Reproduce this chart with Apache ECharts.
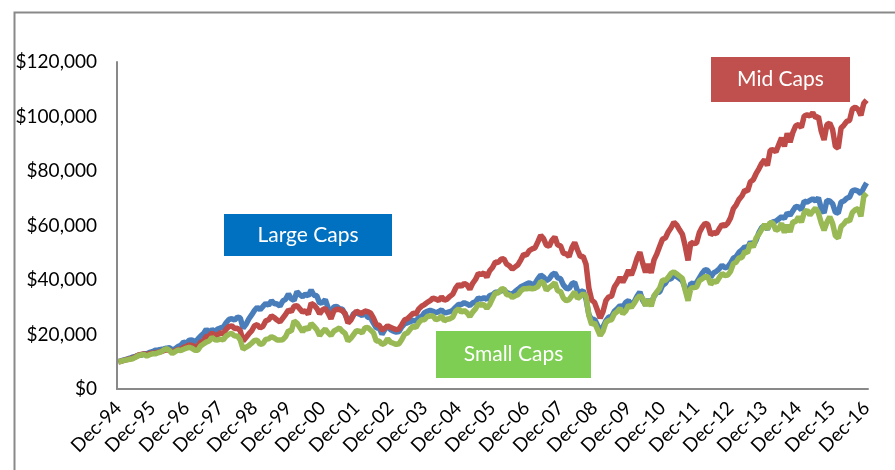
<!DOCTYPE html>
<html><head><meta charset="utf-8">
<script src="https://cdn.jsdelivr.net/npm/echarts@6/dist/echarts.min.js"></script>
<style>html,body{margin:0;padding:0;background:#fff}#c{width:895px;height:470px}</style>
</head><body><div id="c"></div>
<script>
// Values in thousands of dollars, monthly from Dec-94 to Dec-16
const monthNames = ['Jan','Feb','Mar','Apr','May','Jun','Jul','Aug','Sep','Oct','Nov','Dec'];
const startLabel = 'Dec-94';
const years = ['95','96','97','98','99','00','01','02','03','04','05','06','07','08','09','10','11','12','13','14','15','16'];
const yTicks = [0, 20, 40, 60, 80, 100, 120];

const largeCaps = [10.0,
 10.3,10.7,11.0,11.3,11.7,12.0,12.4,12.4,12.9,12.9,13.4,13.7,
 14.2,14.3,14.5,14.7,15.0,15.1,14.4,14.7,15.6,16.0,17.2,16.8,
 17.9,18.0,17.3,18.3,19.4,20.3,21.9,20.7,21.8,21.1,22.0,22.4,
 22.7,24.3,25.5,25.8,25.3,26.4,26.1,22.3,23.7,25.7,27.2,28.8,
 30.0,29.1,30.3,31.4,30.7,32.4,31.4,31.2,30.4,32.3,32.9,34.9,
 33.1,32.5,35.7,34.6,33.9,34.8,34.2,36.3,34.4,34.2,31.5,31.7,
 32.8,29.8,27.9,30.1,30.3,29.5,29.3,27.4,25.2,25.7,27.7,27.9,
 27.5,27.0,28.0,26.3,26.1,24.2,22.4,22.5,20.1,21.8,23.1,21.8,
 21.2,20.9,21.1,22.8,24.0,24.3,24.7,25.2,24.9,26.3,26.6,28.0,
 28.5,28.9,28.5,28.0,28.4,29.0,28.0,28.1,28.4,28.9,30.0,31.0,
 31.0,31.7,31.2,30.6,31.6,32.0,33.4,33.0,33.5,32.9,34.3,34.6,
 35.5,35.6,36.0,36.4,35.4,35.0,34.8,35.8,36.6,37.5,38.0,38.5,
 39.0,38.3,38.7,40.4,41.8,41.1,39.8,40.4,41.9,42.6,40.8,40.5,
 38.2,37.0,36.8,38.6,39.1,35.9,35.6,36.1,33.0,27.3,25.4,25.6,
 23.5,21.0,22.8,25.0,26.4,26.5,28.5,29.5,30.6,30.0,31.8,32.4,
 31.0,32.0,34.0,35.6,32.5,30.8,32.8,31.5,34.0,35.4,35.6,38.0,
 38.8,40.5,40.4,41.8,41.3,40.5,39.7,37.0,35.0,38.8,38.6,39.0,
 40.8,42.5,43.8,43.5,41.0,42.6,43.2,44.1,45.4,44.5,44.8,46.2,
 48.0,48.6,50.2,51.0,52.2,51.6,54.0,52.6,54.6,57.4,59.2,60.0,
 58.6,60.8,61.3,61.6,62.4,63.2,62.6,64.6,63.8,65.4,67.0,66.8,
 65.8,69.0,68.6,69.2,69.8,69.0,70.2,66.2,64.6,69.2,69.0,68.0,
 64.8,64.6,68.6,69.0,70.0,70.4,72.8,73.0,72.6,71.6,73.8,75.6];

const midCaps = [10.0,
 10.2,10.5,10.8,11.0,11.3,11.8,12.4,12.7,12.9,12.5,13.0,13.1,
 13.2,13.5,13.7,14.1,14.4,14.2,13.3,14.0,14.5,14.5,15.3,15.6,
 16.2,16.0,15.5,15.7,17.1,17.6,19.3,19.4,20.6,19.6,19.9,20.6,
 20.3,21.9,22.9,23.2,22.2,22.3,21.4,17.6,18.9,20.2,21.3,23.2,
 23.6,22.4,23.0,25.0,25.4,26.8,26.2,25.3,24.6,26.0,27.4,29.0,
 28.4,30.4,30.6,29.4,28.2,28.8,27.4,31.5,30.8,29.6,27.6,29.0,
 29.6,27.9,25.8,28.6,29.3,29.2,28.7,27.7,24.2,25.3,27.2,28.6,
 28.0,27.8,28.6,28.4,27.8,26.0,23.6,23.4,21.6,22.3,23.2,22.6,
 22.2,21.8,22.0,23.6,25.4,25.8,26.8,27.8,27.6,29.4,30.4,31.0,
 31.8,32.4,33.4,33.0,32.5,33.8,32.6,33.0,34.0,34.8,37.0,38.4,
 37.6,38.8,38.2,36.6,38.8,40.2,42.4,42.0,42.6,41.0,43.4,44.6,
 46.6,46.4,47.6,47.8,45.8,45.2,44.0,44.8,45.6,47.4,49.4,49.2,
 50.8,51.4,51.8,54.0,56.4,55.2,52.8,52.4,54.6,55.8,52.8,52.6,
 49.8,49.6,48.6,51.8,53.8,51.0,48.6,48.6,45.8,37.0,32.6,31.8,
 29.0,26.0,28.4,32.4,33.8,34.0,37.4,39.0,41.0,39.2,41.2,43.6,
 41.8,44.6,48.0,50.2,46.2,42.8,45.8,42.6,47.4,49.6,52.4,55.0,
 55.4,57.6,59.2,61.2,60.2,58.4,56.8,52.4,47.2,53.8,53.4,53.6,
 57.4,59.4,60.8,60.4,56.6,57.4,57.0,58.8,60.4,59.8,60.8,62.8,
 66.2,67.6,69.6,70.8,73.0,72.6,76.0,76.8,79.0,80.8,82.8,84.2,
 82.0,87.6,87.8,87.0,89.6,92.2,89.0,93.8,90.6,94.2,96.6,97.0,
 96.0,100.2,100.6,100.2,101.4,99.6,100.0,94.6,91.4,97.0,97.6,95.2,
 89.0,88.4,95.8,96.8,98.2,98.6,102.8,103.4,102.6,100.4,104.8,106.0];

const smallCaps = [10.0,
 10.2,10.5,10.7,10.9,11.1,11.6,12.2,12.5,12.7,12.1,12.6,12.9,
 12.9,13.3,13.6,14.3,14.8,14.2,13.0,13.7,14.3,14.1,14.6,15.0,
 15.3,14.9,14.2,14.2,15.8,16.5,17.2,17.6,18.9,18.1,18.0,18.3,
 18.0,19.4,20.1,20.4,19.4,19.5,18.0,14.6,15.3,15.9,16.8,17.8,
 17.9,16.4,16.7,18.2,18.4,19.2,18.7,18.0,18.0,18.1,19.2,21.4,
 21.2,25.0,24.2,22.6,21.0,22.6,21.8,24.0,23.0,21.8,19.6,21.0,
 22.0,20.6,19.6,21.2,21.8,22.4,21.2,20.4,17.6,18.6,20.0,21.4,
 21.2,20.6,22.4,22.6,21.6,20.6,17.6,17.6,16.4,16.8,18.4,17.2,
 16.8,16.4,16.6,18.2,20.2,20.6,22.0,23.0,22.6,24.4,25.4,25.4,
 26.6,26.8,26.8,25.4,25.8,26.8,25.0,25.6,25.8,26.4,28.6,29.4,
 28.2,28.8,28.0,26.6,28.2,29.4,31.2,30.8,31.0,29.6,31.0,33.2,
 35.2,35.2,36.6,36.8,34.6,34.6,33.6,34.2,34.6,36.0,36.8,36.8,
 37.0,36.8,37.0,37.6,39.4,39.0,36.2,37.2,38.0,39.0,36.0,35.8,
 33.4,32.4,32.8,34.2,35.6,33.2,34.0,35.0,34.0,27.0,23.6,24.4,
 22.0,19.6,21.2,24.4,25.2,25.4,27.6,28.4,29.6,27.6,28.6,30.8,
 30.0,31.4,33.2,34.2,33.2,30.6,32.8,30.4,34.2,35.6,37.0,40.0,
 39.8,41.0,42.4,43.0,42.2,41.4,40.6,36.2,32.4,37.0,37.2,37.4,
 39.8,40.4,41.2,41.2,38.4,39.6,39.2,40.8,42.4,41.6,41.8,43.2,
 46.0,46.6,48.2,48.2,50.4,50.0,53.6,52.0,55.4,56.8,58.6,60.4,
 58.6,61.2,60.8,58.2,58.8,60.8,57.4,60.2,57.6,61.4,61.4,63.2,
 61.2,64.8,65.6,63.8,65.2,66.4,64.6,61.0,58.2,61.2,63.2,60.8,
 56.2,55.4,59.6,60.6,62.0,61.6,64.8,65.8,66.2,63.4,70.6,71.8];

const categories = [startLabel];
years.forEach(y => monthNames.forEach(m => categories.push(m + '-' + y)));

const FONT = 'Lato, "Open Sans", sans-serif';
const chart = echarts.init(document.getElementById('c'), null, {renderer: 'canvas'});
function box(x, y, w, h, color, text) {
  return {
    type: 'group', left: x, top: y, z: 100,
    children: [
      {type: 'rect', shape: {x: 0, y: 0, width: w, height: h}, style: {fill: color}},
      {type: 'text', x: w / 2, y: h / 2, style: {text: text, fill: '#fff', font: '21px ' + FONT, textAlign: 'center', textVerticalAlign: 'middle'}}
    ]
  };
}
chart.setOption({
  animation: false,
  backgroundColor: '#fff',
  grid: {left: 117, right: 27, top: 62, bottom: 81, containLabel: false},
  xAxis: {
    type: 'category', data: categories, boundaryGap: true,
    axisLine: {show: true, lineStyle: {color: '#898989', width: 2}},
    axisTick: {show: false},
    axisLabel: {
      interval: (i) => i % 12 === 0,
      rotate: 45, margin: 16, color: '#000', fontSize: 19, fontFamily: FONT
    },
    splitLine: {show: false}
  },
  yAxis: {
    type: 'value', min: yTicks[0], max: yTicks[yTicks.length - 1], interval: 20,
    axisLine: {show: true, lineStyle: {color: '#898989', width: 2}},
    axisTick: {show: false},
    splitLine: {show: false},
    axisLabel: {
      margin: 20, color: '#000', fontSize: 19, fontFamily: FONT,
      formatter: v => '$' + (v * 1000).toLocaleString('en-US')
    }
  },
  series: [
    {name: 'Large Caps', type: 'line', data: largeCaps, showSymbol: false, symbol: 'none',
     lineStyle: {color: '#4a7ebb', width: 5.5}, itemStyle: {color: '#4a7ebb'}},
    {name: 'Mid Caps', type: 'line', data: midCaps, showSymbol: false, symbol: 'none',
     lineStyle: {color: '#be4b48', width: 5.5}, itemStyle: {color: '#be4b48'}},
    {name: 'Small Caps', type: 'line', data: smallCaps, showSymbol: false, symbol: 'none',
     lineStyle: {color: '#98b954', width: 5.5}, itemStyle: {color: '#98b954'}}
  ],
  graphic: [
    {type: 'rect', left: 12, top: 10, z: 0, shape: {x: 0, y: 0, width: 900, height: 500},
     style: {fill: null, stroke: '#898989', lineWidth: 2}},
    box(224, 214, 168, 42, '#0070c0', 'Large Caps'),
    box(711, 57, 139, 45, '#c0504d', 'Mid Caps'),
    box(436, 331, 155, 47, '#7dce52', 'Small Caps')
  ]
});
</script>
</body></html>
